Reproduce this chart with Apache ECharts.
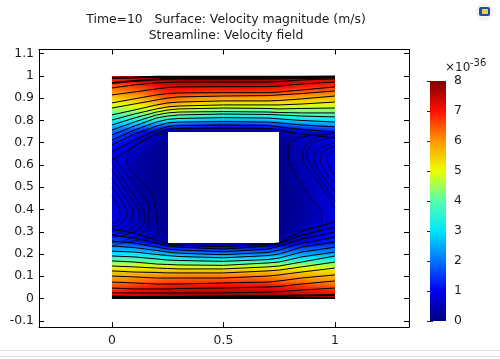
<!DOCTYPE html>
<html><head><meta charset="utf-8">
<style>html,body{margin:0;padding:0;background:#fff}#c{width:500px;height:359px}</style>
<script src="https://cdn.jsdelivr.net/npm/echarts@6/dist/echarts.min.js"></script>
</head><body><div id="c"></div>
<script>
const titleLines = ['Time=10   Surface: Velocity magnitude (m/s)', 'Streamline: Velocity field'];
const xTicks = [0, 0.5, 1];
const yTicks = [-0.1, 0, 0.1, 0.2, 0.3, 0.4, 0.5, 0.6, 0.7, 0.8, 0.9, 1, 1.1];
const barTicks = [0, 1, 2, 3, 4, 5, 6, 7, 8];
const yStations = [0,.025,.05,.075,.1,.125,.15,.175,.2,.225,.25, .3,.35,.4,.45,.5,.55,.6,.65,.7, .75,.775,.8,.825,.85,.875,.9,.925,.95,.975,1];
const xStations = [0,.05,.1,.15,.2,.25,.3,.4,.5,.6,.7,.75,.8,.85,.9,.95,1];
const H = null;
const col000 = [7.4,7,6.6,6.2,5.8,5.45,4.7,3.9,3.1,2.4,1.7, 1.1,.95,.9,.85,.85,.85,.9,.95,1.2, 1.9,2.6,3.3,3.9,4.5,5,5.5,5.95,6.4,6.8,7.2];
const col005 = [7.5,7.1,6.7,6.25,5.85,5.45,4.8,4,3.1,2.4,1.6, .95,.8,.75,.7,.7,.7,.75,.85,1.1, 1.6,2.5,3.3,4,4.6,5.1,5.6,6.05,6.5,6.9,7.35];
const col010 = [7.6,7.2,6.8,6.3,5.9,5.45,4.8,4,3.1,2.3,1.4, .75,.6,.55,.5,.45,.4,.4,.55,.9, 1.3,2.4,3.4,4.1,4.7,5.2,5.7,6.2,6.6,7,7.5];
const col015 = [7.7,7.3,6.9,6.4,6,5.5,4.8,3.9,3,2.1,1.1, .55,.45,.4,.3,.25,.25,.25,.3,.55, 1,2.2,3.4,4.2,4.9,5.4,5.9,6.35,6.75,7.2,7.65];
const col020 = [7.85,7.4,7,6.5,6.05,5.55,4.8,3.8,2.8,1.8,.7, .3,.25,.2,.2,.15,.15,.15,.2,.3, .7,2,3.4,4.3,5,5.7,6.2,6.6,7,7.4,7.8];
const col025 = [7.95,7.5,7.1,6.6,6.1,5.6,4.7,3.6,2.5,1.4,.25, .12,.12,.12,.12,.12,.12,.12,.12,.12, .3,1.7,3.3,4.3,5.2,5.9,6.4,6.8,7.2,7.6,7.9];
const col030 = [8,7.55,7.15,6.65,6.15,5.6,4.65,3.5,2.4,1.3,.25, H,H,H,H,H,H,H,H,H, .25,1.5,3.1,4.1,5,5.7,6.3,6.75,7.2,7.65,7.95];
const col040 = [8,7.6,7.2,6.7,6.2,5.6,4.5,3.3,2.2,1.2,.25, H,H,H,H,H,H,H,H,H, .25,1.3,2.8,3.8,4.7,5.4,6,6.65,7.2,7.7,8];
const col050 = [8,7.6,7.2,6.7,6.2,5.6,4.5,3.3,2.2,1.2,.25, H,H,H,H,H,H,H,H,H, .25,1.2,2.6,3.5,4.4,5.2,5.9,6.6,7.2,7.7,8];
const col060 = [8,7.6,7.2,6.7,6.2,5.6,4.5,3.3,2.2,1.2,.25, H,H,H,H,H,H,H,H,H, .25,1.2,2.6,3.5,4.4,5.2,5.9,6.6,7.2,7.7,8];
const col070 = [8,7.55,7.15,6.65,6.1,5.55,4.5,3.3,2.2,1.3,.3, H,H,H,H,H,H,H,H,H, .25,1.3,2.7,3.6,4.4,5.2,5.9,6.55,7.15,7.65,8];
const col075 = [7.95,7.5,7,6.5,6,5.5,4.5,3.35,2.3,1.4,.4, .12,.12,.12,.12,.12,.12,.12,.12,.12, .25,1.5,2.8,3.7,4.5,5.2,5.85,6.5,7.05,7.55,7.95];
const col080 = [7.9,7.4,6.9,6.4,5.9,5.45,4.5,3.35,2.3,1.5,.7, .25,.15,.15,.15,.15,.2,.2,.25,.3, .5,1.7,2.9,3.75,4.5,5.2,5.8,6.4,6.95,7.4,7.85];
const col085 = [7.8,7.3,6.8,6.3,5.85,5.4,4.5,3.4,2.35,1.6,.9, .5,.3,.25,.25,.3,.4,.5,.5,.55, .7,1.9,2.95,3.8,4.5,5.15,5.75,6.35,6.85,7.3,7.75];
const col090 = [7.7,7.2,6.7,6.2,5.8,5.35,4.5,3.4,2.4,1.7,1.05, .8,.5,.45,.5,.55,.6,.65,.65,.65, .85,2,3,3.8,4.5,5.1,5.7,6.3,6.8,7.2,7.7];
const col095 = [7.65,7.1,6.6,6.15,5.75,5.3,4.5,3.4,2.4,1.75,1.2, .95,.75,.7,.75,.75,.75,.75,.75,.8, 1,2.1,3,3.8,4.5,5.1,5.7,6.25,6.75,7.15,7.6];
const col100 = [7.6,7,6.5,6.1,5.7,5.3,4.5,3.4,2.4,1.8,1.3, 1,.85,.85,.85,.85,.85,.85,.85,.9, 1.1,2.2,3,3.8,4.5,5.1,5.7,6.2,6.7,7.1,7.5];
const speedColumns = [col000,col005,col010,col015,col020,col025,col030,col040,col050,col060,col070,col075,col080,col085,col090,col095,col100];

// streamlines: channel lines share these x positions
const lineX = [0,.1,.2,.25,.3,.5,.7,.75,.85,1];
const topL1 = [.991,.993,.996,.996,.996,.996,.996,.996,.996,.998];
const topL2 = [.969,.978,.984,.987,.989,.989,.989,.989,.991,.993];
const topL3 = [.946,.960,.969,.971,.973,.973,.973,.975,.982,.987];
const topL4 = [.915,.928,.942,.948,.951,.952,.952,.955,.964,.973];
const topL5 = [.879,.897,.915,.921,.924,.925,.925,.928,.937,.951];
const topL6 = [.856,.874,.892,.901,.906,.910,.912,.915,.921,.933];
const topL7 = [.825,.847,.870,.879,.883,.888,.888,.890,.897,.910];
const topL8 = [.802,.829,.852,.861,.865,.870,.870,.870,.874,.883];
const topL9 = [.780,.811,.838,.847,.852,.856,.854,.852,.854,.856];
const topL10 = [.757,.793,.825,.834,.838,.840,.838,.836,.834,.834];
const topL11 = [.735,.775,.811,.820,.825,.829,.827,.825,.820,.816];
const topL12 = [.712,.757,.793,.805,.809,.813,.811,.807,.800,.793];
const topL13 = [.690,.739,.775,.789,.793,.795,.793,.789,.780,.771];
const topL14 = [.658,.712,.757,.773,.778,.780,.778,.771,.760,.748];
const topL15 = [.622,.685,.744,.760,.764,.766,.764,.757,.739,.721];
const botL1 = [.002,.002,.002,.002,.002,.002,.002,.002,.002,.002];
const botL2 = [.009,.007,.007,.007,.007,.009,.011,.011,.013,.016];
const botL3 = [.025,.025,.025,.025,.025,.025,.029,.031,.038,.047];
const botL4 = [.047,.043,.043,.043,.045,.047,.052,.054,.065,.079];
const botL5 = [.074,.070,.065,.065,.065,.070,.074,.079,.092,.106];
const botL6 = [.101,.097,.092,.092,.092,.092,.101,.106,.119,.137];
const botL7 = [.124,.119,.117,.115,.115,.115,.124,.128,.142,.164];
const botL8 = [.146,.142,.137,.135,.133,.133,.142,.146,.164,.191];
const botL9 = [.169,.164,.155,.153,.151,.149,.160,.164,.187,.209];
const botL10 = [.191,.187,.178,.173,.171,.167,.175,.182,.209,.231];
const botL11 = [.213,.209,.198,.193,.189,.183,.193,.200,.231,.254];
const botL12 = [.236,.229,.216,.209,.204,.197,.207,.218,.249,.276];
const botL13 = [.258,.249,.231,.222,.218,.210,.222,.236,.267,.299];
const botL14 = [.285,.272,.249,.236,.231,.222,.236,.247,.285,.321];
const botL15 = [.312,.294,.263,.245,.240,.233,.245,.250,.303,.344];
const channelLines = [topL3,topL4,topL5,topL6,topL7,topL8,topL9,topL10,topL11,topL12,topL13,topL14,topL15,
  botL3,botL4,botL5,botL6,botL7,botL8,botL9,botL10,botL11,botL12,botL13,botL14,botL15];
const wallLines = [topL1,topL2,botL1,botL2];
// recirculation lines at the sides, [x, y]
const leftArc1 = [[0,.46],[.025,.42],[.036,.38],[.028,.35],[0,.335]];
const leftArc2 = [[0,.50],[.035,.45],[.06,.41],[.067,.38],[.055,.35],[.03,.33],[0,.32]];
const leftArc3 = [[0,.54],[.04,.48],[.075,.43],[.094,.385],[.085,.345],[.05,.32],[0,.30]];
const leftArc4 = [[0,.58],[.04,.52],[.08,.46],[.115,.41],[.126,.37],[.115,.335],[.08,.31],[.04,.295],[0,.285]];
const leftArc5 = [[0,.61],[.04,.55],[.08,.49],[.115,.44],[.14,.40],[.148,.37],[.14,.33],[.10,.30],[.05,.285],[0,.275]];
const leftArc6 = [[0,.64],[.05,.58],[.10,.51],[.14,.46],[.165,.40],[.165,.34],[.13,.29],[.07,.265],[0,.25]];
const leftOuter = [[.25,.744],[.157,.721],[.081,.667],[.067,.613],[.112,.546],[.17,.488],[.193,.411],[.206,.294],[.139,.267],[.05,.25],[0,.235]];
const rightArc1 = [[1,.55],[.975,.59],[.965,.63],[.975,.655],[1,.665]];
const rightArc2 = [[1,.52],[.965,.56],[.94,.60],[.933,.63],[.945,.66],[.97,.675],[1,.685]];
const rightArc3 = [[1,.48],[.96,.53],[.925,.58],[.905,.625],[.915,.66],[.95,.685],[1,.70]];
const rightArc4 = [[1,.44],[.96,.50],[.92,.56],[.885,.61],[.875,.65],[.89,.69],[.93,.71],[1,.73]];
const rightArc5 = [[1,.41],[.96,.47],[.92,.53],[.88,.58],[.855,.63],[.86,.67],[.89,.71],[.94,.73],[1,.745]];
const rightOuter = [[.991,.744],[.857,.726],[.798,.703],[.79,.654],[.83,.546],[.888,.456],[.942,.366],[.933,.321],[.857,.272],[.8,.255]];
const sideLines = [leftArc1,leftArc2,leftArc3,leftArc4,leftArc5,leftArc6,leftOuter,rightArc1,rightArc2,rightArc3,rightArc4,rightArc5,rightOuter];

// colour scale
const scaleValues = [0,1,2,3,4,5,6,7,8];
const scaleColours = [[0,0,130],[0,0,235],[0,115,255],[0,230,255],[85,255,170],[235,255,0],[255,150,0],[255,15,0],[125,0,0]];

function colourAt(v){
  v = Math.max(0, Math.min(8, v));
  const i = Math.min(7, Math.floor(v)), t = v - i, a = scaleColours[i], b = scaleColours[i+1];
  return 'rgb(' + a.map((c,k)=>Math.round(c+(b[k]-c)*t)).join(',') + ')';
}

const cells = [];
for (let i = 0; i < xStations.length-1; i++) for (let j = 0; j < yStations.length-1; j++) {
  const a = speedColumns[i][j], b = speedColumns[i+1][j], c = speedColumns[i][j+1], d = speedColumns[i+1][j+1];
  if (a===null||b===null||c===null||d===null) continue;
  cells.push([xStations[i], xStations[i+1], yStations[j], yStations[j+1], a, b, c, d]);
}
function renderCell(params, api){
  const p0 = api.coord([api.value(0), api.value(2)]), p1 = api.coord([api.value(1), api.value(3)]);
  const x0 = Math.round(p0[0]), x1 = Math.round(p1[0]), yb = Math.round(p0[1]), yt = Math.round(p1[1]);
  const kids = [];
  for (let sx = x0; sx < x1; sx += 2) {
    const w = Math.min(2, x1-sx), t = (sx+w/2-x0)/(x1-x0);
    const vb = api.value(4)+(api.value(5)-api.value(4))*t, vt = api.value(6)+(api.value(7)-api.value(6))*t;
    kids.push({type:'rect', shape:{x:sx,y:yt,width:w,height:yb-yt}, silent:true,
      style:{fill:new echarts.graphic.LinearGradient(0,0,0,1,[
        {offset:0,color:colourAt(vt)},{offset:.5,color:colourAt((vt+vb)/2)},{offset:1,color:colourAt(vb)}])}});
  }
  return {type:'group', children:kids};
}
function renderBar(params, api){
  const p0 = api.coord([0,0]), p1 = api.coord([1,8]);
  const stops = scaleValues.map(v=>({offset:1-v/8,color:colourAt(v)})).reverse();
  return {type:'rect', shape:{x:p0[0],y:p1[1],width:p1[0]-p0[0],height:p0[1]-p1[1]}, silent:true,
    style:{fill:new echarts.graphic.LinearGradient(0,0,0,1,stops)}};
}

const FONT = 'DejaVu Sans', INK = '#1c1c1c';
const series = [{type:'custom', xAxisIndex:0, yAxisIndex:0, data:cells, renderItem:renderCell, clip:true, silent:true, animation:false, z:2}];
function addChannel(ys, width){
  series.push({type:'line', xAxisIndex:0, yAxisIndex:0, data:ys.map((y,i)=>[lineX[i],y]),
    showSymbol:false, silent:true, animation:false, z:3, lineStyle:{color:'#000',width:width}});
}
channelLines.forEach(ys=>addChannel(ys,1));
wallLines.forEach(ys=>addChannel(ys,2));
sideLines.forEach(l=>series.push({type:'line', xAxisIndex:0, yAxisIndex:0, data:l, smooth:.4,
  showSymbol:false, silent:true, animation:false, z:3, lineStyle:{color:'#000',width:.8,opacity:.85}}));
series.push({type:'custom', xAxisIndex:2, yAxisIndex:2, data:[[0,0]], renderItem:renderBar, silent:true, animation:false, z:2});

const mainX = {type:'value', min:-0.327, max:1.332, splitLine:{show:false}, axisLine:{show:true,onZero:false,lineStyle:{color:'#000',width:1}},
  axisTick:{inside:true,length:5,customValues:xTicks,lineStyle:{color:'#000'}}};
const mainY = {type:'value', min:-0.128, max:1.119, splitLine:{show:false}, axisLine:{show:true,onZero:false,lineStyle:{color:'#000',width:1}},
  axisTick:{inside:true,length:5,customValues:yTicks,lineStyle:{color:'#000'}}};
const barTickStyle = {inside:true,length:3,customValues:barTicks,lineStyle:{color:'#222'}};

const chart = echarts.init(document.getElementById('c'), null, {renderer:'canvas'});
chart.setOption({
  animation:false, backgroundColor:'#fff',
  title:{text:titleLines.join('\n'), left:221, top:7, textAlign:'center',
    textStyle:{fontFamily:FONT,fontSize:12.4,fontWeight:'normal',color:INK,lineHeight:16}},
  grid:[{left:39,top:49.5,width:370,height:277.5},{left:430,top:81,width:16,height:240}],
  xAxis:[
    Object.assign({},mainX,{gridIndex:0,position:'bottom',axisLabel:{customValues:xTicks,margin:8,fontFamily:FONT,fontSize:12.4,color:INK}}),
    Object.assign({},mainX,{gridIndex:0,position:'top',axisLabel:{show:false}}),
    {type:'value',gridIndex:1,min:0,max:1,show:false}
  ],
  yAxis:[
    Object.assign({},mainY,{gridIndex:0,position:'left',axisLabel:{customValues:yTicks,margin:5,fontFamily:FONT,fontSize:12.4,color:INK}}),
    Object.assign({},mainY,{gridIndex:0,position:'right',axisLabel:{show:false}}),
    {type:'value',gridIndex:1,position:'right',min:0,max:8,splitLine:{show:false},axisLine:{show:false},axisTick:barTickStyle,
      axisLabel:{customValues:barTicks,margin:8,fontFamily:FONT,fontSize:12.4,color:INK}},
    {type:'value',gridIndex:1,position:'left',min:0,max:8,splitLine:{show:false},axisLine:{show:false},axisTick:barTickStyle,axisLabel:{show:false}}
  ],
  graphic:[
    {type:'text',left:445,top:62,z:10,style:{text:'×10',font:'12px "DejaVu Sans"',fill:INK}},
    {type:'text',left:470,top:58,z:10,style:{text:'-36',font:'10px "DejaVu Sans"',fill:INK}},
    {type:'line',z:1,shape:{x1:0,y1:350.5,x2:500,y2:350.5},style:{stroke:'#dfe2ea',lineWidth:1}},
    {type:'line',z:1,shape:{x1:0,y1:356.5,x2:500,y2:356.5},style:{stroke:'#dfe2ea',lineWidth:1}},
    {type:'circle',z:1,shape:{cx:484,cy:12,r:9},style:{fill:'#f3f3f3'}},
    {type:'rect',z:2,shape:{x:479,y:7,width:11,height:9,r:2},style:{fill:'#1d4f9c'}},
    {type:'rect',z:3,shape:{x:482,y:9,width:6,height:5},style:{fill:'#e6cf5a'}}
  ],
  series:series
});
</script></body></html>
